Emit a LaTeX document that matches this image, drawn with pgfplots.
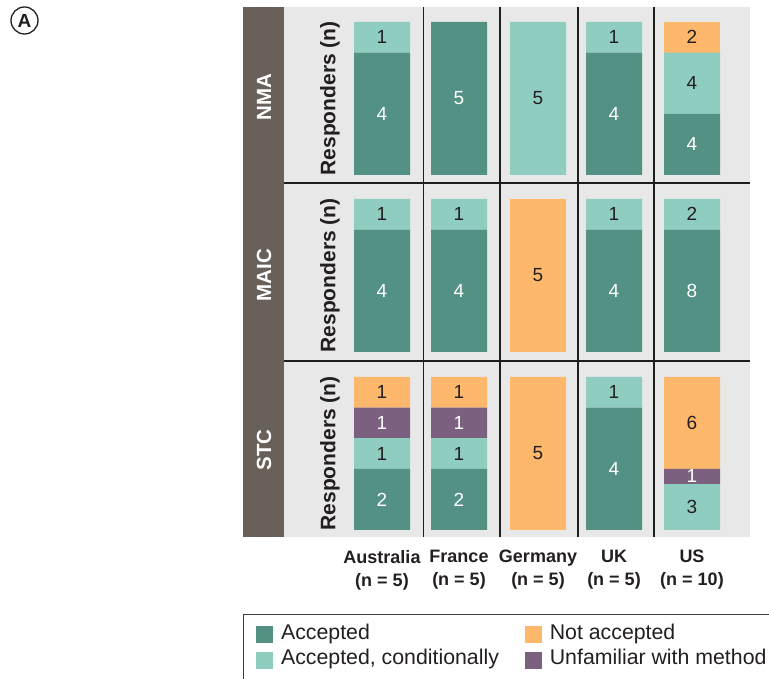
\documentclass[border=0pt]{standalone}
\usepackage{pgfplots}
\pgfplotsset{compat=1.18}
\usepackage{pgfplotstable}
\usepackage{fontspec}
\setmainfont{Liberation Sans}

\definecolor{cAcc}{RGB}{84,145,133}
\definecolor{cCond}{RGB}{143,205,193}
\definecolor{cNot}{RGB}{253,184,107}
\definecolor{cUnf}{RGB}{124,96,128}
\definecolor{cStrip}{RGB}{106,96,90}
\definecolor{cBg}{RGB}{232,232,232}
\definecolor{cTxt}{RGB}{35,31,32}
\definecolor{cLine}{RGB}{30,30,30}

% shares of respondents (height) and counts (labels)
\pgfplotstableread{
x   acc  cond unf  nota nacc ncond nunf nnota
382 0.8  0.2  0    0    4    1     0    0
459 1.0  0    0    0    5    0     0    0
538 0    1.0  0    0    0    5     0    0
614 0.8  0.2  0    0    4    1     0    0
692 0.4  0.4  0    0.2  4    4     0    2
}\nma
\pgfplotstableread{
x   acc  cond unf  nota nacc ncond nunf nnota
382 0.8  0.2  0    0    4    1     0    0
459 0.8  0.2  0    0    4    1     0    0
538 0    0    0    1.0  0    0     0    5
614 0.8  0.2  0    0    4    1     0    0
692 0.8  0.2  0    0    8    2     0    0
}\maic
\pgfplotstableread{
x   acc  cond unf  nota nacc ncond nunf nnota
382 0.4  0.2  0.2  0.2  2    1     1    1
459 0.4  0.2  0.2  0.2  2    1     1    1
538 0    0    0    1.0  0    0     0    5
614 0.8  0.2  0    0    4    1     0    0
692 0    0.3  0.1  0.6  0    3     1    6
}\stc

\newcommand\labfont{\fontsize{19}{19}\selectfont}
\pgfplotsset{
  rowaxis/.style={
    scale only axis, width=466pt, xmin=284, xmax=750,
    ybar stacked, bar width=56,
    axis background/.style={fill=cBg},
    axis line style={draw=none},
    ytick=\empty, xtick=\empty, major tick length=0pt,
    clip=false,
  },
  seg/.style n args={4}{%
    fill=#1, draw=none, forget plot,
    visualization depends on={\thisrow{#3}\as\segn},
    nodes near coords={\ifdim\segn pt>0.5pt \pgfmathtruncatemacro\segi{\segn}\segi\fi},
    every node near coord/.append style={text=#4, anchor=center, inner sep=0pt, font=\labfont},
  },
  lsq/.style={legend image code/.code={\fill[#1] (0pt,-6pt) rectangle (16pt,10pt);}},
}
\newcommand\rowplots[1]{%
  \addplot[seg={cAcc}{acc}{nacc}{white}] table[x=x,y=acc]{#1};
  \addplot[seg={cCond}{cond}{ncond}{cTxt}] table[x=x,y=cond]{#1};
  \addplot[seg={cUnf}{unf}{nunf}{white}] table[x=x,y=unf]{#1};
  \addplot[seg={cNot}{nota}{nnota}{cTxt}] table[x=x,y=nota]{#1};
}
\newcommand\resp{\node[rotate=90, text=cTxt, font=\bfseries\fontsize{21}{21}\selectfont] at (axis cs:330,0.5) {Responders (n)};}

\begin{document}
\begin{tikzpicture}[x=1pt,y=1pt]
\path[use as bounding box] (0,0) rectangle (769,679);
\fill[cStrip] (243,142) rectangle (284,672);

\begin{axis}[rowaxis, at={(284pt,496pt)}, anchor=south west, height=176pt, ymin=-0.0523, ymax=1.098]
\rowplots{\nma}
\resp
\end{axis}

\begin{axis}[rowaxis, at={(284pt,318pt)}, anchor=south west, height=178pt, ymin=-0.0588, ymax=1.1046]
\rowplots{\maic}
\resp
\end{axis}

\begin{axis}[rowaxis, at={(284pt,142pt)}, anchor=south west, height=176pt, ymin=-0.0458, ymax=1.1046,
  xtick={382,459,538,614,692},
  xticklabels={{Australia\\(n = 5)},{France\\(n = 5)},{Germany\\(n = 5)},{UK\\(n = 5)},{US\\(n = 10)}},
  xticklabel style={align=center, anchor=north, inner sep=0pt, yshift=-13pt, text=cTxt, font=\bfseries\fontsize{18}{23}\selectfont},
  legend columns=2,
  legend cell align=left,
  legend style={at={(-0.0601,-0.5057)}, anchor=north west, draw=none, fill=none, inner sep=0pt,
    font=\fontsize{21.3}{25}\selectfont, text=cTxt,
    nodes={inner sep=0pt, text height=0.73em, text depth=0.2em},
    /tikz/every odd column/.append style={column sep=8.5pt},
    /tikz/every even column/.append style={column sep=26pt},
    row sep=9pt},
]
\rowplots{\stc}
\resp
\addlegendimage{lsq=cAcc}\addlegendentry{Accepted}
\addlegendimage{lsq=cNot}\addlegendentry{Not accepted}
\addlegendimage{lsq=cCond}\addlegendentry{Accepted, conditionally}
\addlegendimage{lsq=cUnf}\addlegendentry{Unfamiliar with method}
\end{axis}

% panel separators
\draw[cLine, line width=1.2pt] (423.5,142) -- (423.5,672) (500,142) -- (500,672)
  (578,142) -- (578,672) (654,142) -- (654,672);
\draw[cLine, line width=1.2pt] (284,496) -- (750,496) (284,318) -- (750,318);

% strip labels
\node[rotate=90, text=white, font=\bfseries\fontsize{20.5}{20.5}\selectfont] at (264,582) {NMA};
\node[rotate=90, text=white, font=\bfseries\fontsize{20.5}{20.5}\selectfont] at (264,404) {MAIC};
\node[rotate=90, text=white, font=\bfseries\fontsize{20.5}{20.5}\selectfont] at (264,229) {STC};

% legend frame (cut by page edge)
\draw[cLine!85, line width=1pt] (243.5,0) -- (243.5,64) -- (769,64);

% panel tag
\node[circle, draw=cTxt, line width=1.3pt, inner sep=0pt, minimum size=27pt, text=cTxt,
  font=\bfseries\fontsize{19}{19}\selectfont] at (24.5,658.5) {A};
\end{tikzpicture}
\end{document}
